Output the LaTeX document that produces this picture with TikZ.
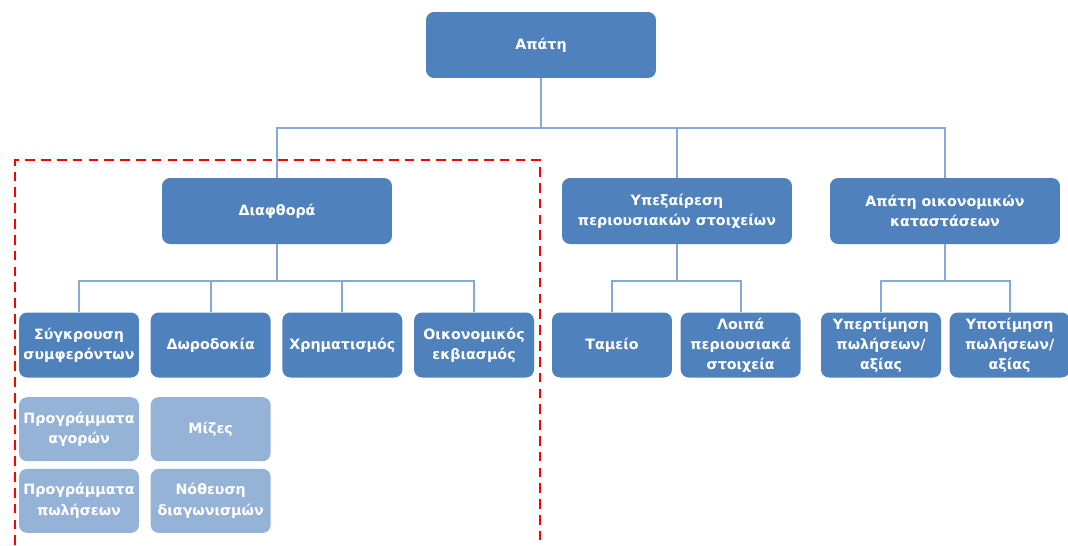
\documentclass[tikz,border=0pt]{standalone}
\usepackage{fontspec}
\setmainfont{DejaVu Sans}
\usepackage{xcolor}
\usetikzlibrary{positioning}

\definecolor{boxblue}{HTML}{4F81BD}
\definecolor{paleblue}{HTML}{95B3D7}
\definecolor{linkblue}{HTML}{86A9D6}

\begin{document}
\begin{tikzpicture}[
    x=0.02cm, y=-0.02cm,
    unit/.style={rectangle, rounded corners=0.16cm, fill=boxblue, text=white, font=\bfseries\fontsize{8.1}{11.5}\selectfont, align=center, inner sep=1pt},
    headbox/.style={unit, minimum width=4.6cm, minimum height=1.32cm},
    smallbox/.style={unit, minimum width=2.4cm, minimum height=1.3cm},
    subbox/.style={smallbox, fill=paleblue, minimum height=1.28cm},
    link/.style={draw=linkblue, line width=1.3pt},
    zone/.style={draw=red, line width=1.3pt, dash pattern=on 5.5pt off 3.5pt}
]
\useasboundingbox (0,0) rectangle (1068,545);

% Top and second level
\node (apati) [headbox] at (541,45) {Απάτη};
\node (diafthora) [headbox] at (277,211) {Διαφθορά};
\node (ypexairesi) [headbox] at (677,211) {Υπεξαίρεση\\περιουσιακών στοιχείων};
\node (oikkatast) [headbox] at (945,211) {Απάτη οικονομικών\\καταστάσεων};

% Children of Διαφθορά
\node (sygkrousi) [smallbox] at (79,345) {Σύγκρουση\\συμφερόντων};
\node (dorodokia) [smallbox, right=0.22cm of sygkrousi] {Δωροδοκία};
\node (xrimatismos) [smallbox, right=0.22cm of dorodokia] {Χρηματισμός};
\node (ekviasmos) [smallbox, right=0.22cm of xrimatismos] {Οικονομικός\\εκβιασμός};

% Schemes
\node (agores) [subbox, below=0.38cm of sygkrousi] {Προγράμματα\\αγορών};
\node (polisis) [subbox, below=0.14cm of agores] {Προγράμματα\\πωλήσεων};
\node (mizes) [subbox, below=0.38cm of dorodokia] {Μίζες};
\node (notheusi) [subbox, below=0.14cm of mizes] {Νόθευση\\διαγωνισμών};

% Children of the other two
\node (tameio) [smallbox] at (612,345) {Ταμείο};
\node (loipa) [smallbox, right=0.16cm of tameio] {Λοιπά\\περιουσιακά\\στοιχεία};
\node (yper) [smallbox] at (881,345) {Υπερτίμηση\\πωλήσεων/\\αξίας};
\node (ypo) [smallbox, right=0.16cm of yper] {Υποτίμηση\\πωλήσεων/\\αξίας};

% Links
\foreach \kid in {diafthora, ypexairesi, oikkatast}
  \draw[link] (apati.south) -- ++(0,50) -| (\kid.north);
\foreach \kid in {sygkrousi, dorodokia, xrimatismos, ekviasmos}
  \draw[link] (diafthora.south) -- ++(0,37) -| (\kid.north);
\foreach \kid in {tameio, loipa}
  \draw[link] (ypexairesi.south) -- ++(0,37) -| (\kid.north);
\foreach \kid in {yper, ypo}
  \draw[link] (oikkatast.south) -- ++(0,37) -| (\kid.north);

% Corruption area
\draw[zone] (15,545) |- (540,160) -- (540,545);

\end{tikzpicture}
\end{document}
